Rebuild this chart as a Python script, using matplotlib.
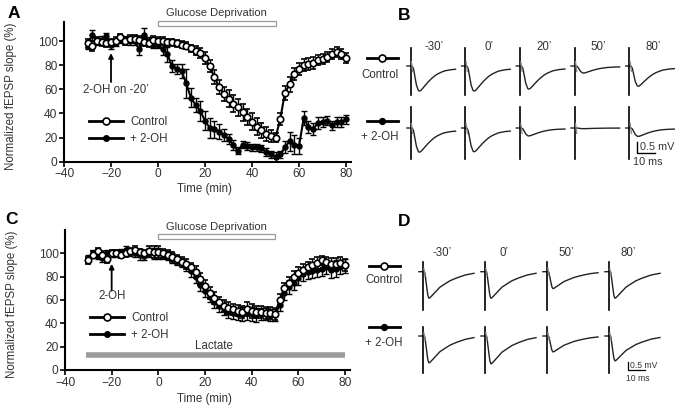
import numpy as np
import matplotlib
matplotlib.use("Agg")
import matplotlib.pyplot as plt
from matplotlib.lines import Line2D
from matplotlib.patches import Rectangle

plt.rcParams['font.family'] = ['Liberation Sans', 'DejaVu Sans']
TXT = '#333333'

# ---------------- data ----------------
TIME = [-30, -28, -26, -24, -22, -20, -18, -16, -14, -12, -10, -8, -6, -4, -2,
        0, 2, 4, 6, 8, 10, 12, 14, 16, 18, 20, 22, 24, 26, 28, 30, 32, 34, 36, 38,
        40, 42, 44, 46, 48, 50, 52, 54, 56, 58, 60, 62, 64, 66, 68, 70, 72, 74,
        76, 78, 80]

A_CTRL = [98, 96, 100, 99, 98, 99, 100, 103, 100, 102, 102, 101, 99, 98, 101,
          100, 100, 99, 99, 98, 97, 96, 94, 92, 90, 86, 79, 70, 62, 56, 52, 48,
          45, 41, 37, 33, 29, 26, 23, 21, 20, 35, 57, 64, 73, 77, 80, 81, 82, 84,
          85, 87, 89, 91, 89, 86]
A_CTRL_ERR = [4, 4, 3, 3, 3, 3, 3, 3, 3, 3, 3, 3, 3, 3, 3,
              3, 3, 3, 3, 3, 3, 3, 3, 4, 4, 5, 5, 6, 6, 6, 7, 7, 7, 7, 7, 7,
              7, 6, 6, 5, 4, 5, 6, 6, 5, 5, 5, 5, 5, 4, 4, 4, 4, 4, 4, 4]
A_OH = [97, 105, 100, 101, 104, 97, 99, 101, 101, 100, 100, 93, 105, 100, 97,
        97, 93, 89, 79, 77, 75, 65, 53, 47, 42, 34, 28, 27, 25, 22, 19, 14, 9,
        14, 13, 12, 12, 11, 8, 6, 4, 6, 12, 17, 14, 13, 36, 29, 27, 32, 33, 34,
        30, 33, 33, 35]
A_OH_ERR = [4, 4, 3, 3, 3, 4, 3, 3, 3, 3, 3, 5, 6, 3, 3,
            3, 5, 6, 5, 4, 6, 12, 8, 6, 8, 8, 8, 7, 6, 5, 4, 4, 3, 3, 3, 3,
            3, 3, 3, 3, 4, 3, 5, 8, 8, 7, 6, 5, 5, 5, 4, 4, 4, 4, 4, 4]

C_CTRL = [94, 99, 102, 99, 95, 100, 100, 99, 100, 102, 103, 101, 100, 102, 101,
          101, 100, 99, 97, 95, 93, 91, 88, 84, 78, 72, 66, 62, 58, 55, 53, 52,
          51, 50, 52, 51, 50, 50, 49, 49, 48, 60, 70, 75, 80, 83, 86, 88, 90, 92,
          94, 93, 91, 91, 92, 90]
C_CTRL_ERR = [3, 3, 3, 3, 3, 3, 3, 3, 3, 3, 3, 3, 3, 4, 5,
              5, 4, 4, 4, 4, 4, 4, 4, 5, 5, 5, 5, 5, 5, 5, 5, 5, 5, 5, 6, 6,
              5, 5, 5, 5, 5, 5, 5, 5, 5, 5, 5, 5, 5, 5, 4, 4, 5, 5, 5, 5]
C_OH = [96, 100, 98, 96, 100, 100, 100, 101, 103, 101, 100, 99, 98, 101, 100,
        100, 99, 98, 96, 94, 92, 89, 85, 80, 73, 68, 63, 58, 55, 52, 50, 49,
        48, 48, 49, 48, 47, 48, 48, 47, 47, 56, 66, 71, 75, 79, 82, 84, 85, 86,
        87, 88, 86, 87, 88, 89]
C_OH_ERR = [3, 3, 3, 3, 3, 3, 3, 3, 3, 3, 3, 5, 4, 4, 5,
            5, 4, 4, 4, 4, 4, 4, 5, 5, 5, 5, 5, 5, 5, 5, 5, 5, 5, 6, 6, 6,
            6, 5, 5, 5, 5, 5, 6, 6, 6, 6, 6, 6, 6, 6, 6, 6, 7, 7, 6, 6]

GLUCOSE_DEP = (0, 50)      # min
LACTATE = (-31, 80)         # min
DRUG_TIME = -20

# waveform templates (ms after stimulus, fraction of trough depth)
B_T = [-2.0, 0.6, 1.1, 1.7, 2.2, 2.8, 3.3, 3.9, 4.4, 5.0, 5.6, 6.7, 8.3, 10.0,
       11.7, 13.3, 15.0, 16.7, 18.3, 20.0, 22.2, 25.0]
B_SHAPE = [0, 0, 0.02, 0.12, 0.32, 0.56, 0.76, 0.88, 0.98, 1.0, 0.98, 0.9,
           0.76, 0.62, 0.5, 0.4, 0.32, 0.26, 0.21, 0.18, 0.15, 0.13]
D_T = [-2.4, 0.9, 1.2, 1.8, 2.4, 2.9, 3.5, 4.1, 5.3, 7.5, 10.0, 13.4, 15.9,
       19.2, 21.8, 25.1, 30.0]
D_SHAPE = [0, 0, 0.08, 0.38, 0.68, 0.9, 1.0, 0.98, 0.9, 0.75, 0.58, 0.44, 0.34,
           0.25, 0.19, 0.12, 0.06]

B_LABELS = ["-30’", "0’", "20’", "50’", "80’"]
B_DEPTH_CTRL = [1.14, 1.14, 1.05, 0.32, 0.92]   # mV
B_DEPTH_OH = [1.10, 1.08, 0.36, 0.03, 0.38]
D_LABELS = ["-30’", "0’", "50’", "80’"]
D_DEPTH_CTRL = [1.6, 1.6, 1.02, 1.6]
D_DEPTH_OH = [1.62, 1.68, 0.96, 1.5]

# ---------------- figure ----------------
W, H = 684, 407
fig = plt.figure(figsize=(W / 100, H / 100), dpi=100)
FS = 8.3


def px_axes(l, t, r, b):
    return fig.add_axes([l / W, 1 - b / H, (r - l) / W, (b - t) / H])


def style_axes(ax, ytop):
    ax.set_xlim(-40, 82)
    ax.set_ylim(0, ytop)
    for s in ['top', 'right']:
        ax.spines[s].set_visible(False)
    for s in ['left', 'bottom']:
        ax.spines[s].set_linewidth(1.5)
    ax.set_xticks([-40, -20, 0, 20, 40, 60, 80])
    ax.set_yticks([0, 20, 40, 60, 80, 100])
    ax.tick_params(direction='out', length=3.5, width=1.2, labelsize=8.6,
                   colors='k', labelcolor=TXT, pad=1.2)
    ax.set_xlabel('Time (min)', fontsize=FS, color=TXT)
    ax.set_ylabel('Normalized fEPSP slope (%)', fontsize=FS, color=TXT)
    ax.xaxis.set_label_coords(0.49, -0.155)
    ax.yaxis.set_label_coords(-0.165, 0.47)


def draw_series(ax, ctrl, cerr, oh, oerr):
    ax.errorbar(TIME, oh, yerr=oerr, fmt='-o', color='k', ms=3.6, mfc='k',
                mec='k', lw=1.5, elinewidth=1.0, capsize=2.2, capthick=1.0,
                zorder=3)
    ax.errorbar(TIME, ctrl, yerr=cerr, fmt='-o', color='k', ms=4.6, mfc='white',
                mec='k', mew=1.2, lw=1.5, elinewidth=1.0, capsize=2.2,
                capthick=1.0, zorder=4)


def legend(ax, y_anchor):
    h1 = Line2D([], [], color='k', lw=2, marker='o', ms=5, mfc='white', mew=1.2)
    h2 = Line2D([], [], color='k', lw=2, marker='o', ms=4, mfc='k')
    ax.legend([h1, h2], ['Control', '+ 2-OH'], loc='lower left',
              bbox_to_anchor=(0.05, y_anchor), frameon=False, fontsize=FS,
              handlelength=3.0, labelspacing=0.45, handletextpad=0.6,
              labelcolor=TXT)


def glucose_box(ax):
    ax.add_patch(Rectangle((GLUCOSE_DEP[0], 112.5), GLUCOSE_DEP[1] - GLUCOSE_DEP[0],
                           4.3, fc='white', ec='#9a9a9a', lw=0.9, clip_on=False))
    ax.text(sum(GLUCOSE_DEP) / 2, 123, 'Glucose Deprivation', ha='center',
            va='center', fontsize=8.0, color=TXT, clip_on=False)


# Panel A
axA = px_axes(64, 21.7, 64 + 122 * 2.35, 161.7)
style_axes(axA, 116)
draw_series(axA, A_CTRL, A_CTRL_ERR, A_OH, A_OH_ERR)
glucose_box(axA)
legend(axA, 0.045)
axA.annotate('', xy=(DRUG_TIME, 90), xytext=(DRUG_TIME, 66),
             arrowprops=dict(arrowstyle='-|>', color='k', lw=1.3,
                             mutation_scale=7, shrinkA=0, shrinkB=0))
axA.text(-18, 59.5, "2-OH on -20’", ha='center', va='center', fontsize=FS,
         color=TXT)

# Panel C
axC = px_axes(65, 230, 65 + 122 * 2.333, 370)
style_axes(axC, 120)
axC.xaxis.set_label_coords(0.49, -0.165)
draw_series(axC, C_CTRL, C_CTRL_ERR, C_OH, C_OH_ERR)
glucose_box(axC)
legend(axC, 0.13)
axC.plot(LACTATE, [12.5, 12.5], color='#9b9b9b', lw=4, solid_capstyle='butt',
         zorder=2)
axC.text(24, 20.5, 'Lactate', ha='center', va='center', fontsize=FS, color=TXT)
axC.annotate('', xy=(DRUG_TIME, 91), xytext=(DRUG_TIME, 68),
             arrowprops=dict(arrowstyle='-|>', color='k', lw=1.3,
                             mutation_scale=7, shrinkA=0, shrinkB=0))
axC.text(-20, 63.5, '2-OH', ha='center', va='center', fontsize=FS, color=TXT)

# overlay for traces / letters
ov = fig.add_axes([0, 0, 1, 1], facecolor='none')
ov.set_xlim(0, W)
ov.set_ylim(H, 0)
ov.axis('off')

for letter, (x, y) in zip('ABCD', [(14, 14), (404, 16), (12, 219), (404, 221)]):
    ov.text(x, y, letter, ha='center', va='center', fontsize=12.5,
            fontweight='bold', color='k')


def draw_trace(x0, y0, t, shape, depth, pxms, pxmv, up, down):
    t = np.asarray(t)
    v = np.asarray(shape) * depth
    ov.plot(x0 + t * pxms, y0 + v * pxmv, color='#222222', lw=1.0)
    ov.plot([x0, x0], [y0 - up * pxmv, y0 + down * pxmv], color='k', lw=1.2)
    ov.plot([x0 + 0.5 * pxms, x0 + 1.2 * pxms], [y0 - 0.2 * pxmv, y0 + 0.25 * pxmv],
            color='#888888', lw=0.9)


def icon(xc, y, filled):
    ov.plot([xc - 15.5, xc + 15.5], [y, y], color='k', lw=2.0)
    ov.plot([xc], [y], marker='o', ms=5 if not filled else 4,
            mfc='k' if filled else 'white', mec='k', mew=1.2)


# Panel B
B_PXMS, B_PXMV = 1.8, 22.0
for i, lab in enumerate(B_LABELS):
    x0 = 410.5 + i * 54.7
    ov.text(x0 + 24, 47, lab, ha='center', va='center', fontsize=FS, color=TXT)
    draw_trace(x0, 66, B_T, B_SHAPE, B_DEPTH_CTRL[i], B_PXMS, B_PXMV, 0.82, 1.3)
    draw_trace(x0, 128, B_T, B_SHAPE, B_DEPTH_OH[i], B_PXMS, B_PXMV, 0.95, 1.4)
icon(382, 58, False)
ov.text(380, 75, 'Control', ha='center', va='center', fontsize=FS, color=TXT)
icon(382, 121, True)
ov.text(380, 137, '+ 2-OH', ha='center', va='center', fontsize=FS, color=TXT)
ov.plot([637, 637, 637 + 10 * B_PXMS], [153 - 0.5 * B_PXMV, 153, 153],
        color='k', lw=1.0)
ov.text(639.5, 146.5, '0.5 mV', ha='left', va='center', fontsize=7.8, color=TXT)
ov.text(633, 162, '10 ms', ha='left', va='center', fontsize=7.8, color=TXT)

# Panel D
D_PXMS, D_PXMV = 1.7, 16.6
for i, lab in enumerate(D_LABELS):
    x0 = 423 + i * 62.0
    ov.text(x0 + 19, 253, lab, ha='center', va='center', fontsize=FS, color=TXT)
    draw_trace(x0, 271.7, D_T, D_SHAPE, D_DEPTH_CTRL[i], D_PXMS, D_PXMV, 0.6, 2.3)
    draw_trace(x0, 336, D_T, D_SHAPE, D_DEPTH_OH[i], D_PXMS, D_PXMV, 0.55, 2.25)
icon(384, 265.7, False)
ov.text(384, 280, 'Control', ha='center', va='center', fontsize=FS, color=TXT)
icon(384, 327, True)
ov.text(384, 343, '+ 2-OH', ha='center', va='center', fontsize=FS, color=TXT)
ov.plot([628, 628, 628 + 10 * D_PXMS], [370 - 0.5 * D_PXMV, 370, 370],
        color='k', lw=0.9)
ov.text(630.5, 365, '0.5 mV', ha='left', va='center', fontsize=6.2, color=TXT)
ov.text(626, 378.5, '10 ms', ha='left', va='center', fontsize=6.2, color=TXT)

fig.savefig('out.png', dpi=100)
